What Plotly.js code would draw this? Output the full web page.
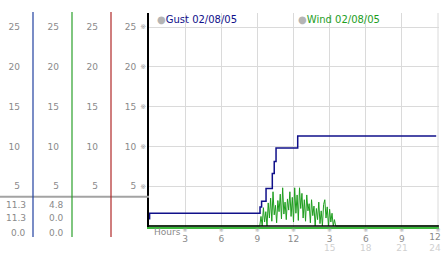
<!DOCTYPE html>
<html>
<head>
<meta charset="utf-8">
<script src="https://cdn.plot.ly/plotly-3.0.1.min.js"></script>
<style>html,body{margin:0;padding:0;background:#fff;}#chart{width:442px;height:253px;}</style>
</head>
<body>
<div id="chart"></div>
<script>
// ---- data ----
const seriesNames = ['Gust 02/08/05', 'Wind 02/08/05'];
const gustHours  = [0, 0.05, 9.22, 9.35, 9.72, 10.24, 10.4, 10.55, 12.35, 23.85];
const gustValues = [0.9, 1.6, 2.4, 3.1, 4.7, 6.6, 8.1, 9.8, 11.3, 11.3];
const windHours  = [0, 9.1, 9.2, 9.3, 9.4, 9.5, 9.6, 9.7, 9.8, 9.9, 10.0, 10.1, 10.2, 10.3, 10.4, 10.5, 10.6, 10.7, 10.8, 10.9,
  11.0, 11.1, 11.2, 11.3, 11.4, 11.5, 11.6, 11.7, 11.8, 11.9, 12.0, 12.1, 12.2, 12.3, 12.4, 12.5, 12.6, 12.7, 12.8, 12.9,
  13.0, 13.1, 13.2, 13.3, 13.4, 13.5, 13.6, 13.7, 13.8, 13.9, 14.0, 14.1, 14.2, 14.3, 14.4, 14.5, 14.6, 14.7, 14.8, 14.9,
  15.0, 15.1, 15.2, 15.3, 15.4, 15.5, 15.6, 24];
const windValues = [0, 0, 0, 1.2, 0, 2.3, 0.5, 1.8, 0, 2.9, 1.0, 3.5, 0.6, 4.3, 1.4, 2.6, 0.4, 3.2, 1.8, 4.0,
  0.9, 4.8, 1.5, 3.0, 0.8, 3.4, 2.0, 4.3, 1.2, 3.6, 0.5, 4.8, 1.6, 3.9, 0.7, 4.8, 2.2, 4.1, 1.0, 3.3,
  0.6, 3.9, 1.9, 2.8, 0.4, 3.3, 1.3, 2.5, 0, 2.2, 0.8, 3.0, 0.3, 1.9, 0, 2.7, 3.3, 1.0, 2.4, 0,
  2.1, 0.5, 1.6, 0, 0.8, 0, 0, 0];
const tickHours   = [0, 3, 6, 9, 12, 15, 18, 21, 24];
const tickLabels  = ['', '3', '6', '9', '12', '3', '6', '9', '12'];
const tickLabels2 = ['', '', '', '', '', '15', '18', '21', '24'];
const yTicks      = [5, 10, 15, 20, 25];
const gustStats   = ['11.3', '11.3', '0.0'];
const windStats   = ['4.8', '0.0', '0.0'];

// ---- styling / geometry ----
const W = 442, H = 253, ML = 0, MR = 3, MT = 13, MB = 26;
const PW = W - ML - MR, PH = H - MT - MB;
const px2x = p => (p - ML) / PW;
const py2y = p => (H - MB - p) / PH;
const X_MAX = 24 + 1 / 12.04;
const Y_RANGE = [-0.126, 26.76];
const gustColor = '#10108a', windColor = '#1e9e1e';
const gridColor = '#dadada', tickColor = '#8a8a8a';
const FONT = 'DejaVu Sans, Verdana, sans-serif';
const mainX = px2x(149);
const last = tickHours.length - 1;

const traces = [
  {x: windHours, y: windValues, type: 'scatter', mode: 'lines', line: {color: windColor, width: 1}, name: seriesNames[1], hoverinfo: 'skip'},
  {x: gustHours, y: gustValues, type: 'scatter', mode: 'lines', line: {color: gustColor, width: 1.5, shape: 'hv'}, name: seriesNames[0], hoverinfo: 'skip'}
];
// empty traces so that the extra (label-only) axes get drawn
[['x2', 'y'], ['x3', 'y'], ['x4', 'y'], ['x5', 'y'], ['x', 'y2'], ['x', 'y3'], ['x', 'y4'], ['x', 'y5']].forEach(([xa, ya]) =>
  traces.push({x: [], y: [], type: 'scatter', mode: 'lines', xaxis: xa, yaxis: ya, hoverinfo: 'skip', showlegend: false}));

const ytText = yTicks.map(String);
const tf = (size, color) => ({family: FONT, size: size, color: color});

function sideAxis(pos) {
  return {overlaying: 'y', anchor: 'free', position: pos, side: 'left', range: Y_RANGE,
    tickvals: yTicks, ticktext: ytText, showgrid: false, zeroline: false, showline: false, ticks: '',
    ticklabelstandoff: 13, tickfont: tf(9, tickColor)};
}
function overX(vals, text, standoff, font, shift) {
  return {overlaying: 'x', range: [0, X_MAX], anchor: 'y', side: 'bottom', tickvals: vals, ticktext: text,
    showgrid: false, zeroline: false, showline: false, ticks: '', ticklabelstandoff: standoff, tickfont: font,
    ticklabelshift: shift || 0, ticklabeloverflow: 'allow'};
}

const layout = {
  width: W, height: H, margin: {l: ML, r: MR, t: MT, b: MB},
  paper_bgcolor: '#fff', plot_bgcolor: '#fff', showlegend: false,
  font: tf(9, tickColor),
  xaxis: {domain: [mainX, 1], range: [0, X_MAX], anchor: 'y', tickvals: tickHours.slice(0, last), ticktext: tickLabels.slice(0, last),
    showgrid: true, gridcolor: gridColor, gridwidth: 1, zeroline: false,
    showline: true, linecolor: '#3cb83c', linewidth: 1.5, ticks: '', ticklabelstandoff: 3,
    tickfont: tf(9, tickColor), ticklabeloverflow: 'allow'},
  xaxis2: overX(tickHours, tickLabels.map(t => t ? '※' : ''), -2, tf(6, '#a0a0a0')),
  xaxis3: overX(tickHours.slice(0, last), tickLabels2.slice(0, last), 14, tf(9, '#d0d0d0')),
  // right-edge labels, nudged left so they stay inside the picture
  xaxis4: overX([tickHours[last]], [tickLabels[last]], 3, tf(9, tickColor), -3),
  xaxis5: overX([tickHours[last]], [tickLabels2[last]], 14, tf(9, '#d0d0d0'), -3),
  yaxis: {domain: [0, 1], range: Y_RANGE, anchor: 'x', tickvals: yTicks, ticktext: ytText,
    showgrid: true, gridcolor: gridColor, zeroline: false, showline: true, linecolor: '#000', linewidth: 2,
    ticks: '', ticklabelstandoff: 9, tickfont: tf(9, tickColor)},
  yaxis5: {overlaying: 'y', anchor: 'x', side: 'left', range: Y_RANGE, tickvals: yTicks,
    ticktext: yTicks.map(() => '※'), showgrid: false, zeroline: false, showline: false, ticks: '',
    ticklabelstandoff: 2, tickfont: tf(7, '#a0a0a0')},
  yaxis2: sideAxis(px2x(33)),
  yaxis3: sideAxis(px2x(72)),
  yaxis4: sideAxis(px2x(111)),
  shapes: [
    {type: 'line', xref: 'paper', yref: 'y', x0: mainX, x1: 1, y0: 0, y1: 0, line: {color: '#000', width: 1.5}, layer: 'above'},
    {type: 'line', xref: 'paper', yref: 'paper', x0: 0, x1: mainX, y0: py2y(196.7), y1: py2y(196.7), line: {color: '#a3a3a3', width: 2}},
    {type: 'line', xref: 'paper', yref: 'paper', x0: px2x(33), x1: px2x(33), y0: py2y(237), y1: py2y(12), line: {color: '#2040a0', width: 1.2}},
    {type: 'line', xref: 'paper', yref: 'paper', x0: px2x(72), x1: px2x(72), y0: py2y(237), y1: py2y(12), line: {color: '#2aa02a', width: 1.2}},
    {type: 'line', xref: 'paper', yref: 'paper', x0: px2x(111), x1: px2x(111), y0: py2y(237), y1: py2y(12), line: {color: '#b02828', width: 1.2}},
    // right-edge vertical grid line (its tick moved to the nudged axis)
    {type: 'line', xref: 'x', yref: 'paper', x0: tickHours[last], x1: tickHours[last], y0: 0, y1: 1, line: {color: gridColor, width: 1}, layer: 'below'}
  ],
  annotations: []
};

// stats table
const rowsPx = [205, 218.3, 232.5];
gustStats.forEach((s, i) => layout.annotations.push({text: s, xref: 'paper', yref: 'paper', x: px2x(27.5), y: py2y(rowsPx[i]),
  xanchor: 'right', yanchor: 'middle', showarrow: false, font: tf(9, tickColor)}));
windStats.forEach((s, i) => layout.annotations.push({text: s, xref: 'paper', yref: 'paper', x: px2x(65.5), y: py2y(rowsPx[i]),
  xanchor: 'right', yanchor: 'middle', showarrow: false, font: tf(9, tickColor)}));
// axis name
layout.annotations.push({text: 'Hours', xref: 'x', yref: 'paper', x: 0, y: 0, xanchor: 'left', yanchor: 'top',
  xshift: 3, yshift: 2, showarrow: false, font: tf(9, tickColor)});
// legend
[[seriesNames[0], gustColor, 155], [seriesNames[1], windColor, 296]].forEach(([n, c, p]) => layout.annotations.push({
  text: '<span style="color:#b4b4b4">●</span>' + n, xref: 'paper', yref: 'paper', x: px2x(p), y: py2y(20),
  xanchor: 'left', yanchor: 'middle', showarrow: false, font: tf(10, c)}));

Plotly.newPlot('chart', traces, layout, {staticPlot: true, displayModeBar: false});
</script>
</body>
</html>
